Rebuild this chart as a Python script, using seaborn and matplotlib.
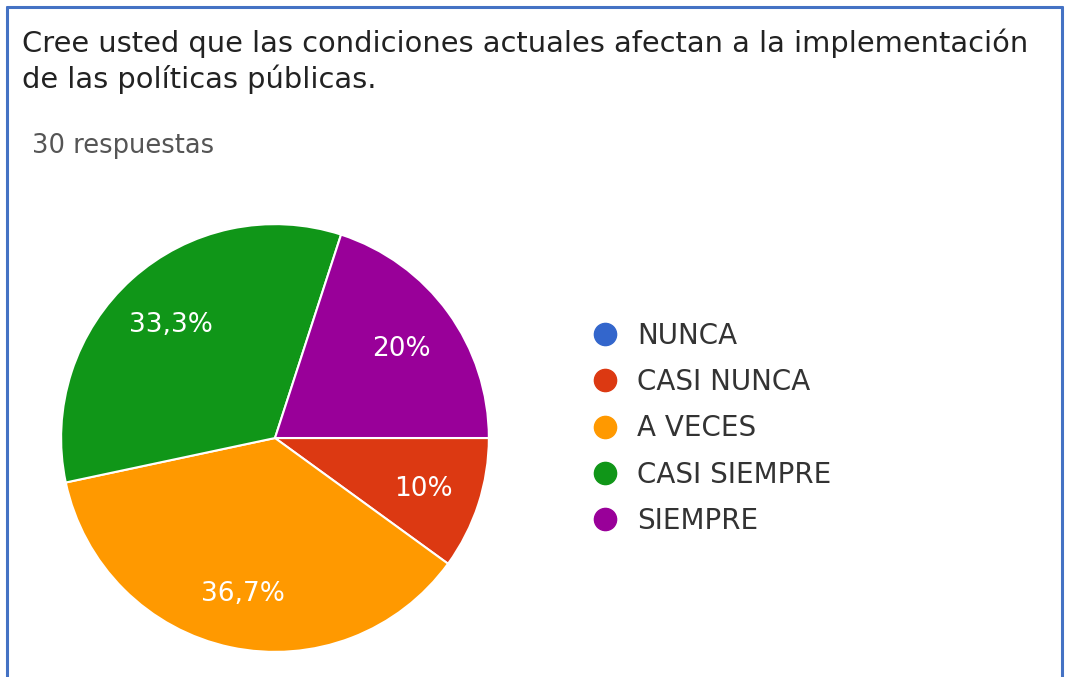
import matplotlib
matplotlib.use("Agg")
import matplotlib.pyplot as plt
from matplotlib.lines import Line2D
import seaborn as sns

# Survey answers (30 respondents)
categories = ["NUNCA", "CASI NUNCA", "A VECES", "CASI SIEMPRE", "SIEMPRE"]
counts = [0, 3, 11, 10, 6]
hex_colors = ["#3366cc", "#dc3912", "#ff9900", "#109618", "#990099"]

title_lines = ["Cree usted que las condiciones actuales afectan a la implementación",
               "de las políticas públicas."]
subtitle = "30 respuestas"

sns.set_theme(style="white")
plt.rcParams["font.family"] = ["DejaVu Sans"]
palette = sns.color_palette(hex_colors)

fig = plt.figure(figsize=(10.65, 6.77), dpi=100)
fig.patch.set_facecolor("white")


def pct_label(p):
    if p <= 0:
        return ""
    s = f"{p:.1f}"
    if s.endswith(".0"):
        s = s[:-2]
    return s.replace(".", ",") + "%"


# Pie area
ax = fig.add_axes([0.0563, 0.0355, 0.4038, 0.635])
wedges, texts, autotexts = ax.pie(
    counts,
    colors=palette,
    startangle=0,
    counterclock=False,
    autopct=pct_label,
    pctdistance=0.73,
    wedgeprops=dict(edgecolor="white", linewidth=1.5),
    textprops=dict(color="white", fontsize=19),
)
for t in autotexts:
    t.set_va("center_baseline")
ax.set_xlim(-1.005, 1.005)
ax.set_ylim(-1.005, 1.005)
ax.set_aspect("equal")
ax.axis("off")

# Legend with round markers
handles = [Line2D([0], [0], marker="o", linestyle="none", markersize=16,
                  markerfacecolor=c, markeredgecolor=c) for c in palette]
fig.legend(handles, categories, loc="upper left", bbox_to_anchor=(0.5316, 0.5613),
           frameon=False, fontsize=20, labelspacing=0.655, handletextpad=0.66,
           handlelength=1.0, labelcolor="#333333")

# Header text
fig.text(0.0205, 0.923, title_lines[0], fontsize=20.8, color="#222222", va="baseline")
fig.text(0.0205, 0.870, title_lines[1], fontsize=20.8, color="#222222", va="baseline")
fig.text(0.030, 0.774, subtitle, fontsize=18.5, color="#555555", va="baseline")

# Blue frame on left, top and right edges
frame_color = "#4472c4"
fig.add_artist(Line2D([0.0062, 0.0062], [0.0, 0.9898], transform=fig.transFigure,
                      color=frame_color, linewidth=2.2))
fig.add_artist(Line2D([0.0062, 0.9972], [0.9898, 0.9898], transform=fig.transFigure,
                      color=frame_color, linewidth=2.2))
fig.add_artist(Line2D([0.9972, 0.9972], [0.0, 0.9898], transform=fig.transFigure,
                      color=frame_color, linewidth=2.2))

fig.savefig("out.png", dpi=100, facecolor="white")
